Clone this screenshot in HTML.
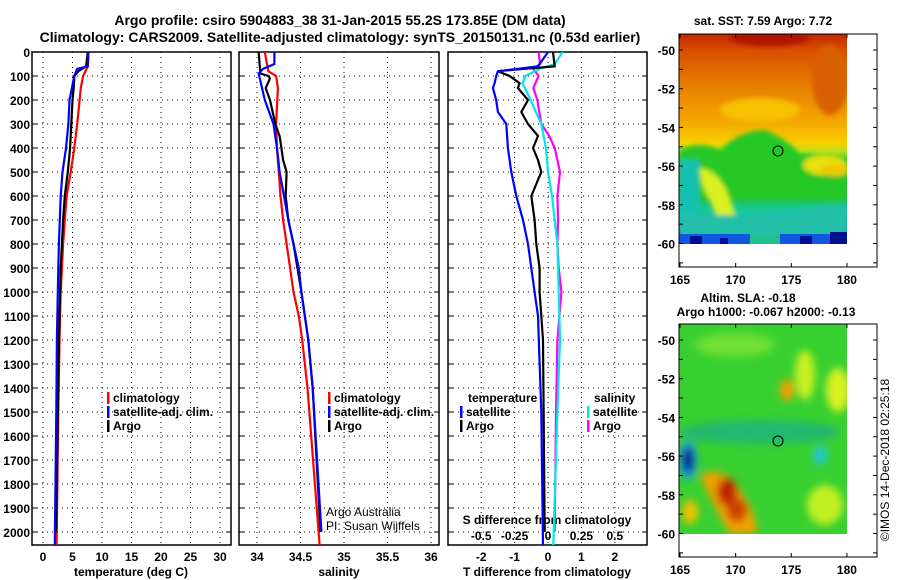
<!DOCTYPE html>
<html><head><meta charset="utf-8">
<style>
html,body{margin:0;padding:0;background:#fff;}
svg{display:block;font-family:"Liberation Sans",sans-serif;font-weight:bold;}
</style></head>
<body>
<svg id="fig" width="900" height="580" viewBox="0 0 900 580" xmlns="http://www.w3.org/2000/svg">
<defs>
<clipPath id="c1"><rect x="32" y="52" width="199" height="493"/></clipPath>
<clipPath id="c2"><rect x="239" y="52" width="200" height="493"/></clipPath>
<clipPath id="c3"><rect x="448" y="52" width="199" height="493"/></clipPath>
<clipPath id="cm1"><rect x="679" y="34" width="168" height="210"/></clipPath>
<clipPath id="cm2"><rect x="679" y="324" width="168" height="210"/></clipPath>
<filter id="bl" x="-50%" y="-50%" width="200%" height="200%"><feGaussianBlur stdDeviation="4"/></filter>
<filter id="bl2" x="-50%" y="-50%" width="200%" height="200%"><feGaussianBlur stdDeviation="2.5"/></filter>
<linearGradient id="sstg" x1="0" y1="0" x2="0" y2="1">
<stop offset="0" stop-color="#c02800"/><stop offset="0.08" stop-color="#d85000"/>
<stop offset="0.25" stop-color="#e88000"/><stop offset="0.42" stop-color="#f4a800"/>
<stop offset="0.52" stop-color="#f8d000"/><stop offset="0.56" stop-color="#b8e020"/>
<stop offset="0.6" stop-color="#28c828"/><stop offset="0.75" stop-color="#20c040"/>
<stop offset="0.85" stop-color="#18c8a0"/><stop offset="0.92" stop-color="#10b0c0"/>
<stop offset="0.96" stop-color="#1040d0"/><stop offset="1" stop-color="#0030c0"/>
</linearGradient>
</defs>

<g id="titles">
<text x="340" y="25" font-size="14" text-anchor="middle">Argo profile: csiro 5904883_38 31-Jan-2015 55.2S 173.85E (DM data)</text>
<text x="340" y="42" font-size="14" text-anchor="middle">Climatology: CARS2009. Satellite-adjusted climatology: synTS_20150131.nc (0.53d earlier)</text>
</g>

<g id="panels"></g>

<g>
<text x="763" y="25" font-size="12" text-anchor="middle">sat. SST: 7.59 Argo: 7.72</text>
<g clip-path="url(#cm1)">
<rect x="679" y="34" width="168" height="210" fill="url(#sstg)"/>
<g filter="url(#bl2)">
<ellipse cx="770" cy="38" rx="40" ry="8" fill="#b01800"/>
<ellipse cx="830" cy="80" rx="18" ry="35" fill="#d86000"/>
<ellipse cx="760" cy="110" rx="40" ry="12" fill="#f8c000"/>
<path d="M679 150 Q700 140 720 150 Q740 130 765 130 Q790 140 800 155 Q820 150 847 170 L847 200 L679 200 Z" fill="#28c828"/>
<path d="M700 168 Q720 170 730 200 Q740 220 735 235 Q718 225 710 200 Q700 185 700 168 Z" fill="#d8f020"/>
<ellipse cx="825" cy="165" rx="22" ry="10" fill="#e8e010"/>
<ellipse cx="835" cy="170" rx="14" ry="6" fill="#f0c800"/>
<rect x="679" y="160" width="20" height="55" fill="#18c0b0"/>
<path d="M740 215 L847 205 L847 240 L679 240 L679 215 Z" fill="#20c0a8"/>
</g>
<rect x="679" y="234" width="168" height="10" fill="#1058e0"/>
<rect x="690" y="236" width="12" height="8" fill="#001090"/><rect x="720" y="238" width="8" height="6" fill="#001090"/>
<rect x="800" y="236" width="12" height="8" fill="#001090"/><rect x="830" y="232" width="17" height="12" fill="#001090"/>
<rect x="750" y="234" width="30" height="10" fill="#20c090"/>
</g>
<circle cx="778" cy="151" r="5" fill="none" stroke="#000" stroke-width="1"/>
<rect x="679" y="34" width="198" height="233" fill="none" stroke="#000" stroke-width="1"/>
<g id="m1ticks"></g>
</g>

<g>
<text x="748" y="302" font-size="12" text-anchor="middle">Altim. SLA: -0.18</text>
<text x="766" y="316" font-size="12" text-anchor="middle">Argo h1000: -0.067 h2000: -0.13</text>
<g clip-path="url(#cm2)">
<rect x="679" y="324" width="168" height="210" fill="#38d030"/>
<g filter="url(#bl)">
<ellipse cx="735" cy="345" rx="40" ry="12" fill="#70e030"/>
<ellipse cx="805" cy="375" rx="10" ry="25" fill="#c8f020"/>
<ellipse cx="838" cy="390" rx="12" ry="22" fill="#d8f020"/>
<ellipse cx="760" cy="432" rx="80" ry="12" fill="#20b870"/>
<ellipse cx="787" cy="390" rx="7" ry="11" fill="#f0a000"/>
<ellipse cx="820" cy="455" rx="7" ry="10" fill="#20c8d0"/>
<ellipse cx="688" cy="460" rx="9" ry="20" fill="#20a0e0"/>
<ellipse cx="688" cy="460" rx="6" ry="13" fill="#002090"/>
<path d="M700 475 Q725 465 740 490 Q760 520 755 534 L730 534 Q710 500 700 475 Z" fill="#f0a000"/>
<ellipse cx="727" cy="492" rx="10" ry="14" fill="#c02000"/>
<ellipse cx="737" cy="510" rx="10" ry="12" fill="#d04000"/>
<ellipse cx="690" cy="512" rx="8" ry="12" fill="#f0c000"/>
<ellipse cx="825" cy="505" rx="18" ry="20" fill="#c0f020"/>
</g>
</g>
<circle cx="778" cy="441" r="5" fill="none" stroke="#000" stroke-width="1"/>
<rect x="679" y="324" width="198" height="233" fill="none" stroke="#000" stroke-width="1"/>
<g id="m2ticks"></g>
<text transform="translate(889,460) rotate(-90)" font-size="12" font-weight="normal" text-anchor="middle">©IMOS 14-Dec-2018 02:25:18</text>
</g>
</svg>

<script>
// ---------- data ----------
const depthTicks = [0,100,200,300,400,500,600,700,800,900,1000,1100,1200,1300,1400,1500,1600,1700,1800,1900,2000];
const tempTicks = [0,5,10,15,20,25,30];
const salTicks = [34,34.5,35,35.5,36];
const tdiffTicks = [-2,-1,0,1,2];
const sdiffTicks = [-0.5,-0.25,0,0.25,0.5];
const sdiffTickLabels = ["-0.5","-0.25","0","0.25","0.5"];

const tClimDepth = [0,60,100,150,300,400,500,600,700,800,900,1000,1200,1500,2054];
const tClim      = [7.7,7.6,6.8,6.4,5.8,5.3,4.7,4.0,3.7,3.4,3.2,3.0,2.8,2.6,2.3];
const tSatDepth  = [0,60,70,100,200,300,400,500,600,700,800,900,1000,1200,1500,2054];
const tSat       = [7.7,7.6,5.8,5.3,4.5,4.3,3.9,3.3,3.0,2.85,2.7,2.6,2.5,2.35,2.25,2.0];
const tArgoDepth = [0,60,80,100,150,200,300,400,500,600,700,800,900,1000,1200,2000];
const tArgo      = [7.6,7.3,6.0,5.3,5.2,5.0,4.8,4.6,4.2,3.7,3.4,3.2,3.0,2.9,2.7,2.2];

const sClimDepth = [0,80,100,150,300,400,500,600,700,800,900,1000,1100,1200,1400,2054];
const sClim      = [34.09,34.13,34.22,34.24,34.22,34.23,34.25,34.27,34.30,34.34,34.38,34.42,34.48,34.52,34.58,34.72];
const sSatDepth  = [0,50,70,90,200,300,400,500,600,700,800,900,1000,1200,1400,2000];
const sSat       = [34.20,34.20,34.07,34.02,34.09,34.19,34.23,34.26,34.31,34.36,34.42,34.48,34.51,34.59,34.64,34.74];
const sArgoDepth = [0,50,90,100,110,150,200,300,350,400,450,500,600,700,800,1000,1200,1400,2000];
const sArgo      = [34.02,34.03,34.04,34.13,34.15,34.10,34.15,34.21,34.26,34.28,34.30,34.34,34.33,34.36,34.42,34.51,34.59,34.64,34.73];

const dtSatDepth = [0,60,80,100,130,150,200,250,300,400,500,600,700,800,900,1000,1100,1500,2054];
const dtSat      = [0,-0.3,-1.5,-1.55,-1.6,-1.65,-1.55,-1.5,-1.25,-1.2,-1.1,-0.95,-0.75,-0.6,-0.5,-0.4,-0.3,-0.2,-0.15];
const dtArgoDepth = [0,60,70,80,100,130,150,200,250,300,350,400,450,500,550,600,700,800,900,1000,1200,2000];
const dtArgo      = [0.15,0.2,-0.7,-1.5,-1.15,-0.85,-0.9,-0.6,-0.8,-0.6,-0.3,-0.45,-0.3,-0.2,-0.35,-0.5,-0.4,-0.35,-0.25,-0.25,-0.15,-0.1];
const dsSatDepth = [0,50,70,100,130,200,300,400,500,600,700,800,900,1000,1200,1500,2054];
const dsSat      = [0.11,0.05,-0.06,-0.17,-0.19,-0.13,-0.05,-0.015,0,0.03,0.05,0.07,0.075,0.08,0.09,0.07,0.04];
const dsArgoDepth = [0,50,70,100,150,200,300,350,400,450,500,600,700,800,900,1000,1200,1500,2000];
const dsArgo      = [-0.07,-0.06,-0.11,-0.07,-0.11,-0.08,-0.05,0.01,0.05,0.07,0.09,0.07,0.075,0.07,0.08,0.1,0.07,0.06,0.05];

const mapLatTicks = [-50,-52,-54,-56,-58,-60];
const mapLonTicks = [165,170,175,180];

// ---------- axes ----------
const NS="http://www.w3.org/2000/svg";
const yD = d => 52 + d*0.24;
const xT = t => 43 + t*5.9;
const xS = s => 257 + (s-34)*87;
const xDT = t => 548 + t*33.4;
const xDS = s => 548 + s*133.6;
const mX = lon => 680 + (lon-165)*11.13;
const mY1 = lat => 50 + (-50-lat)*19.35;
const mY2 = lat => 340 + (-50-lat)*19.35;

function el(tag, attrs, parent){const e=document.createElementNS(NS,tag);for(const k in attrs)e.setAttribute(k,attrs[k]);parent.appendChild(e);return e;}
const P = document.getElementById('panels');

const panels = [
 {x:32,w:199,grid:tempTicks.map(xT),name:'temperature-panel'},
 {x:239,w:200,grid:salTicks.map(xS),name:'salinity-panel'},
 {x:448,w:199,grid:tdiffTicks.map(xDT),name:'difference-panel'}
];
panels.forEach(p=>{
  const g=el('g',{},P);
  
  
  p.grid.forEach(x=>{el('line',{x1:x,x2:x,y1:52,y2:545,stroke:'#000','stroke-width':1,'stroke-dasharray':'1 4'},g);});
  depthTicks.forEach(d=>{
    if(d===0) return;
    el('line',{x1:p.x,x2:p.x+p.w,y1:yD(d),y2:yD(d),stroke:'#000','stroke-width':1,'stroke-dasharray':'1 4'},g);
    el('line',{x1:p.x,x2:p.x+5,y1:yD(d),y2:yD(d),stroke:'#000','stroke-width':1},g);
    el('line',{x1:p.x+p.w-5,x2:p.x+p.w,y1:yD(d),y2:yD(d),stroke:'#000','stroke-width':1},g);
  });
  el('rect',{x:p.x,y:52,width:p.w,height:493,fill:'none',stroke:'#000','stroke-width':1.5},g);
});
depthTicks.forEach(d=>{
  const t=el('text',{x:30,y:yD(d)+5,'font-size':12,'text-anchor':'end'},P);
  t.textContent=d;
  
  
});
function xlabels(ticks,labels,fx,y){
  ticks.forEach((v,i)=>{
    const t=el('text',{x:fx(v),y:y,'font-size':12,'text-anchor':'middle'},P);
    t.textContent=labels[i];
    
    
  });
}
xlabels(tempTicks,tempTicks.map(String),xT,561);
xlabels(salTicks,salTicks.map(String),xS,561);
xlabels(tdiffTicks,tdiffTicks.map(String),xDT,561);
xlabels(sdiffTicks,sdiffTickLabels,xDS,540);
function txt(x,y,s,name,opts){const t=el('text',Object.assign({x:x,y:y,'font-size':12},opts||{}),P);t.textContent=s;
  
  
  return t;}
txt(131,576,'temperature (deg C)','temperature-axis-title',{'text-anchor':'middle'});
txt(339,576,'salinity','salinity-axis-title',{'text-anchor':'middle'});
txt(547,576,'T difference from climatology','t-diff-axis-title',{'text-anchor':'middle'});
txt(547,524,'S difference from climatology','s-diff-axis-title',{'text-anchor':'middle'});
txt(326,516,'Argo Australia','credit-argo-australia',{'font-weight':'normal'});
txt(326,530,'PI: Susan Wijffels','credit-pi',{'font-weight':'normal'});

function series(depths, vals, fx, color, clip, name){
  const pts=depths.map((d,i)=>fx(vals[i]).toFixed(1)+','+yD(d).toFixed(1)).join(' ');
  const pl=el('polyline',{points:pts,fill:'none',stroke:color,'stroke-width':2.2,'clip-path':'url(#'+clip+')'},P);
  
  
}
series(tClimDepth,tClim,xT,'#ff0000','c1','temp-climatology-line');
series(tArgoDepth,tArgo,xT,'#000000','c1','temp-argo-line');
series(tSatDepth,tSat,xT,'#0000ff','c1','temp-satellite-line');
series(sClimDepth,sClim,xS,'#ff0000','c2','sal-climatology-line');
series(sArgoDepth,sArgo,xS,'#000000','c2','sal-argo-line');
series(sSatDepth,sSat,xS,'#0000ff','c2','sal-satellite-line');
series(dsArgoDepth,dsArgo,xDS,'#ff00ff','c3','sdiff-argo-line');
series(dsSatDepth,dsSat,xDS,'#00e8e8','c3','sdiff-satellite-line');
series(dtArgoDepth,dtArgo,xDT,'#000000','c3','tdiff-argo-line');
series(dtSatDepth,dtSat,xDT,'#0000ff','c3','tdiff-satellite-line');

function leg(x,y,color,label){
  const r=el('rect',{x:x,y:y-10,width:2.5,height:12,fill:color},P);
  
  
  txt(x+6,y,label,'legend-entry');
}
leg(107,402,'#ff0000','climatology');leg(107,416,'#0000ff','satellite-adj. clim.');leg(107,430,'#000000','Argo');
leg(328,402,'#ff0000','climatology');leg(328,416,'#0000ff','satellite-adj. clim.');leg(328,430,'#000000','Argo');
txt(468,402,'temperature','legend-temperature-header');
leg(460,416,'#0000ff','satellite');leg(460,430,'#000000','Argo');
txt(594,402,'salinity','legend-salinity-header');
leg(587,416,'#00e8e8','satellite');leg(587,430,'#ff00ff','Argo');

function mapTicks(gid, fy, top, bottom){
  const g=document.getElementById(gid);
  for(let lat=-49;lat>=-61;lat--){
    const y=fy(lat); if(y < top || y > bottom) continue;
    el('line',{x1:679,x2:683,y1:y,y2:y,stroke:'#000'},g);
    el('line',{x1:873,x2:877,y1:y,y2:y,stroke:'#000'},g);
  }
  mapLatTicks.forEach(lat=>{
    const t=el('text',{x:675,y:fy(lat)+5,'font-size':12,'text-anchor':'end'},g);
    t.textContent=lat;
    
    
  });
  mapLonTicks.forEach(lon=>{
    el('line',{x1:mX(lon),x2:mX(lon),y1:top,y2:top+4,stroke:'#000'},g);
    el('line',{x1:mX(lon),x2:mX(lon),y1:bottom-4,y2:bottom,stroke:'#000'},g);
    const t=el('text',{x:mX(lon),y:bottom+17,'font-size':12,'text-anchor':'middle'},g);
    t.textContent=lon;
    
    
  });
}
mapTicks('m1ticks',mY1,34,267);
mapTicks('m2ticks',mY2,324,557);
</script>
</body></html>
